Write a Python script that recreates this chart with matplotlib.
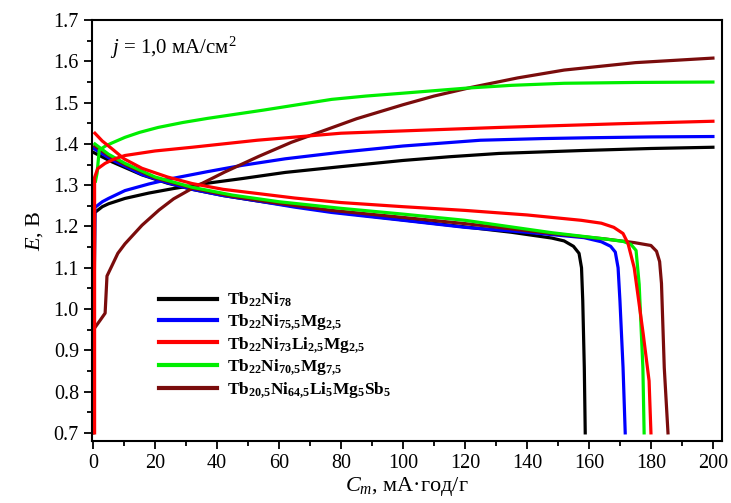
import numpy as np
import matplotlib
matplotlib.use('Agg')
import matplotlib.pyplot as plt
from matplotlib.ticker import MultipleLocator

plt.rcParams['font.family'] = ['Liberation Serif', 'DejaVu Serif']
plt.rcParams['mathtext.fontset'] = 'custom'
plt.rcParams['mathtext.rm'] = 'Liberation Serif'
plt.rcParams['mathtext.it'] = 'Liberation Serif:italic'
plt.rcParams['mathtext.bf'] = 'Liberation Serif:bold'

# charge curves (C, E)
black_ch_c = [0, 0.6, 3, 5, 10.3, 18, 26, 37, 48, 62, 80, 100, 115, 131, 157.5, 180, 200]
black_ch_e = [0.70, 1.234, 1.248, 1.255, 1.268, 1.281, 1.292, 1.305, 1.316, 1.331, 1.345, 1.360, 1.369, 1.377, 1.384, 1.389, 1.392]
blue_ch_c = [0, 0.6, 3, 5, 10.3, 18, 26, 37, 48, 62, 80, 100, 125, 145, 160, 180, 200]
blue_ch_e = [0.74, 1.246, 1.260, 1.268, 1.287, 1.303, 1.317, 1.333, 1.348, 1.364, 1.38, 1.395, 1.409, 1.413, 1.415, 1.417, 1.418]
red_ch_c = [0.5, 0.5, 1.5, 3.9, 7, 10.3, 20, 32, 53, 80, 105, 131, 170, 200]
red_ch_e = [0.70, 1.319, 1.34, 1.353, 1.364, 1.372, 1.383, 1.392, 1.409, 1.426, 1.433, 1.44, 1.449, 1.455]
green_ch_c = [0.8, 1.3, 2, 4, 6, 10.3, 15, 21, 29, 37, 46, 55, 66, 77, 88, 100, 120, 135, 152, 175, 200]
green_ch_e = [1.31, 1.329, 1.385, 1.395, 1.402, 1.416, 1.428, 1.44, 1.452, 1.462, 1.472, 1.482, 1.495, 1.508, 1.516, 1.523, 1.535, 1.542, 1.547, 1.549, 1.55]
brown_ch_c = [0.6, 2.5, 3.9, 4.5, 6.1, 8, 10.3, 15.8, 21.3, 26, 31.9, 42.5, 53.5, 64, 74.7, 85, 100, 110, 122, 137, 152, 175, 200]
brown_ch_e = [0.955, 0.975, 0.99, 1.08, 1.105, 1.135, 1.158, 1.203, 1.24, 1.267, 1.292, 1.332, 1.37, 1.404, 1.433, 1.461, 1.495, 1.516, 1.537, 1.56, 1.579, 1.597, 1.608]

# discharge curves (C, E)
black_dis_c = [0, 6, 15.8, 24, 32, 42, 53, 65, 77, 100, 120, 135, 148, 152, 155, 156.8, 157.6, 158, 158.5, 158.8]
black_dis_e = [1.38, 1.357, 1.325, 1.305, 1.29, 1.275, 1.262, 1.249, 1.236, 1.216, 1.199, 1.186, 1.172, 1.165, 1.152, 1.135, 1.10, 1.02, 0.858, 0.70]
blue_dis_c = [0, 6, 15.8, 24, 32, 42, 53, 65, 77, 100, 120, 140, 158.4, 164, 167, 168.5, 169.4, 170, 171, 171.7]
blue_dis_e = [1.39, 1.362, 1.326, 1.306, 1.29, 1.275, 1.262, 1.247, 1.234, 1.215, 1.198, 1.186, 1.173, 1.163, 1.152, 1.138, 1.10, 1.02, 0.858, 0.70]
red_dis_c = [0.6, 3, 6, 10, 15.8, 24, 32, 42, 53, 65, 80, 100, 120, 140, 157.5, 164, 168, 171, 172.6, 174.6, 177.5, 179.4, 180]
red_dis_e = [1.426, 1.407, 1.389, 1.364, 1.341, 1.32, 1.304, 1.29, 1.28, 1.269, 1.258, 1.248, 1.239, 1.228, 1.215, 1.208, 1.198, 1.183, 1.159, 1.10, 0.94, 0.826, 0.70]
green_dis_c = [0.6, 5, 10.3, 20, 32, 45, 60, 80, 100, 120, 148, 165, 171, 173.5, 175.2, 176.2, 177.4, 177.8]
green_dis_e = [1.40, 1.375, 1.353, 1.32, 1.295, 1.276, 1.26, 1.244, 1.23, 1.215, 1.185, 1.17, 1.164, 1.157, 1.142, 1.06, 0.858, 0.70]
brown_dis_c = [0.6, 5, 10.3, 20, 32, 45, 60, 77, 100, 120, 148, 165, 174.6, 180, 181.8, 182.8, 183.4, 184.3, 185.5]
brown_dis_e = [1.395, 1.372, 1.35, 1.318, 1.293, 1.273, 1.256, 1.239, 1.222, 1.207, 1.183, 1.17, 1.161, 1.154, 1.14, 1.115, 1.062, 0.858, 0.70]

labels = [r'$\mathbf{Tb_{22}Ni_{78}}$',
          r'$\mathbf{Tb_{22}Ni_{75{,}5}Mg_{2{,}5}}$',
          r'$\mathbf{Tb_{22}Ni_{73}Li_{2{,}5}Mg_{2{,}5}}$',
          r'$\mathbf{Tb_{22}Ni_{70{,}5}Mg_{7{,}5}}$',
          r'$\mathbf{Tb_{20{,}5}Ni_{64{,}5}Li_5Mg_5Sb_5}$']
colors = ['#000000', '#0000ff', '#ff0000', '#00ee00', '#7a0c0c']

fig = plt.figure(figsize=(7.31, 5.03), dpi=100)
ax = fig.add_axes([0.126, 0.123, 0.862, 0.837])

lw = 2.3
# draw order: black, blue, brown, green, red
ax.plot(black_ch_c, black_ch_e, color=colors[0], lw=lw)
ax.plot(black_dis_c, black_dis_e, color=colors[0], lw=lw)
ax.plot(blue_ch_c, blue_ch_e, color=colors[1], lw=lw)
ax.plot(blue_dis_c, blue_dis_e, color=colors[1], lw=lw)
ax.plot(brown_ch_c, brown_ch_e, color=colors[4], lw=lw)
ax.plot(brown_dis_c, brown_dis_e, color=colors[4], lw=lw)
ax.plot(green_ch_c, green_ch_e, color=colors[3], lw=lw)
ax.plot(green_dis_c, green_dis_e, color=colors[3], lw=lw)
ax.plot(red_ch_c, red_ch_e, color=colors[2], lw=lw)
ax.plot(red_dis_c, red_dis_e, color=colors[2], lw=lw)

handles = [plt.Line2D([], [], color=c, lw=3) for c in colors]
ax.legend(handles, labels, loc='lower left', bbox_to_anchor=(0.082, 0.06),
          frameon=False, fontsize=12.5, handlelength=3.3, handletextpad=0.6,
          labelspacing=0.16)

ax.text(5.5, 1.632, r'$j$ = 1,0 мА/см$^2$', fontsize=15, va='center')

ax.set_xlim(-0.3, 203)
ax.set_ylim(0.68, 1.7)
ax.xaxis.set_major_locator(MultipleLocator(20))
ax.xaxis.set_minor_locator(MultipleLocator(10))
ax.yaxis.set_major_locator(MultipleLocator(0.1))
ax.yaxis.set_minor_locator(MultipleLocator(0.05))
ax.yaxis.set_major_formatter(plt.FormatStrFormatter('%.1f'))
ax.tick_params(which='major', direction='out', length=6, width=1.3, labelsize=14.5)
ax.tick_params(which='minor', direction='out', length=3.5, width=1.3)
for s in ax.spines.values():
    s.set_linewidth(1.5)

ax.set_xlabel(r'$C_m$, мА·год/г', fontsize=16, labelpad=1)
ax.set_ylabel(r'$E$, В', fontsize=16, labelpad=6)

fig.savefig('out.png', dpi=100)
